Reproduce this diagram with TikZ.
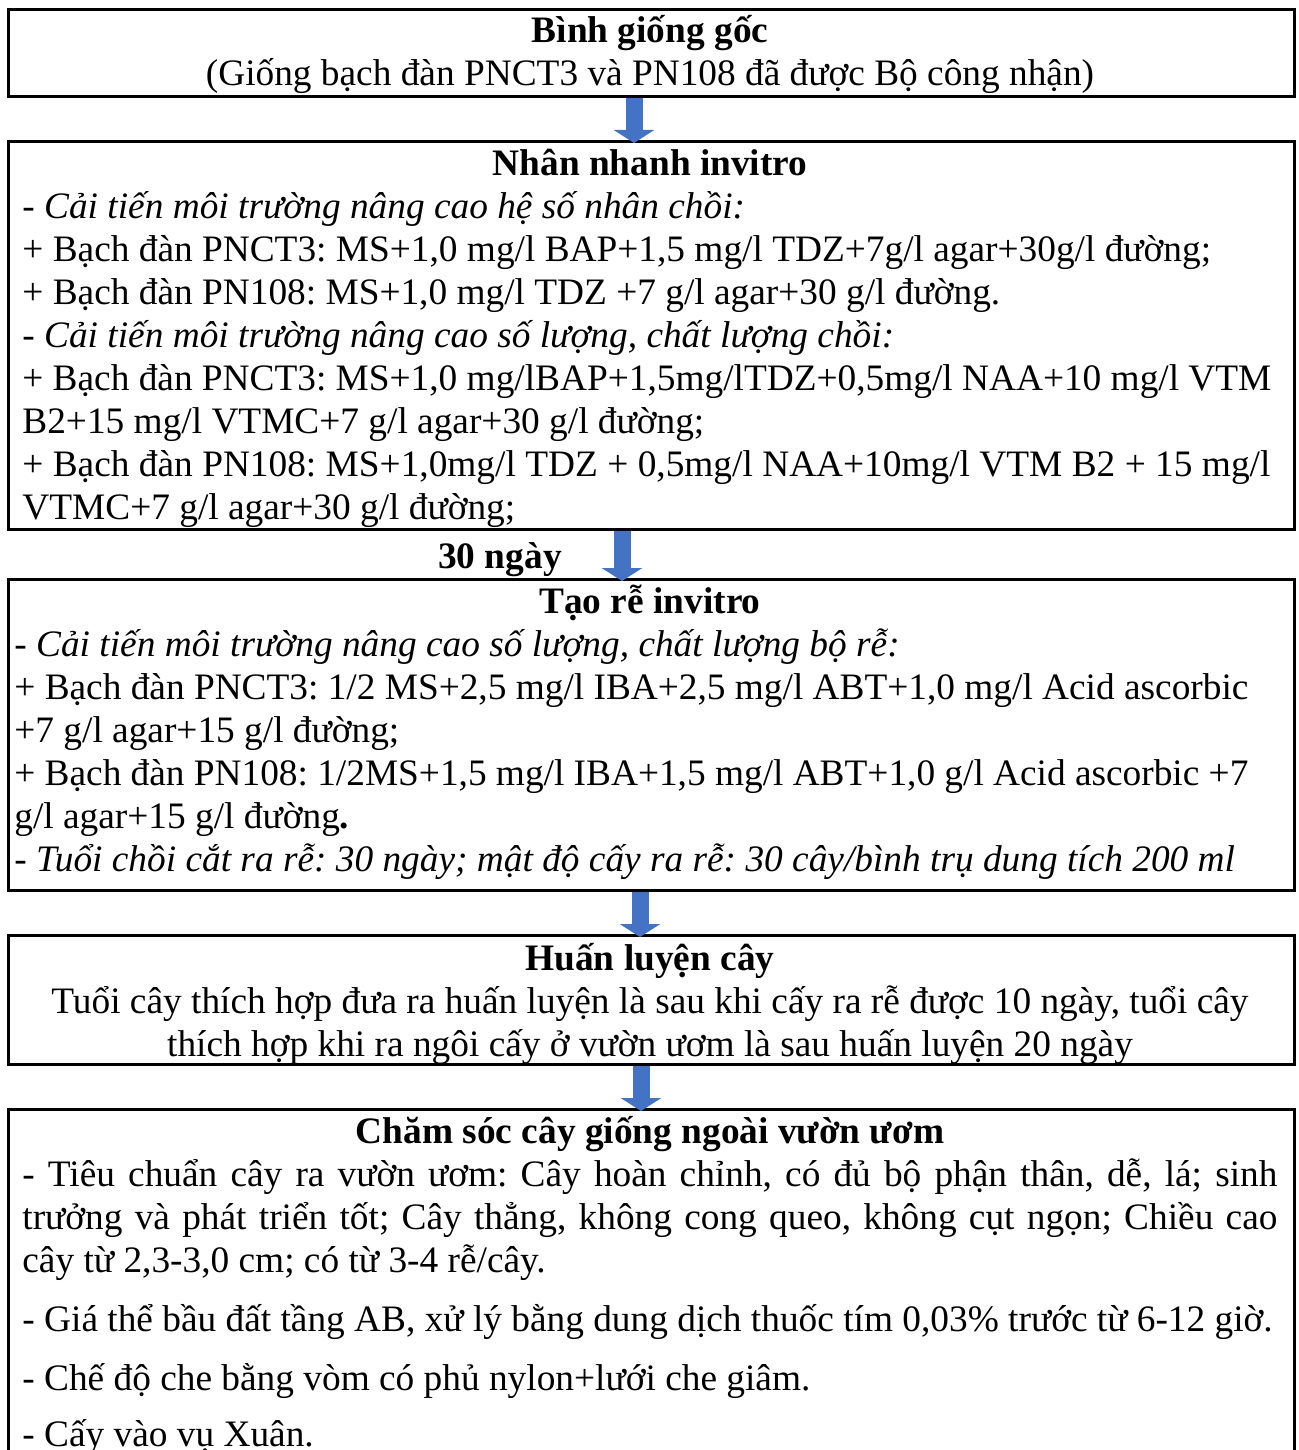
\documentclass[tikz,border=0pt]{standalone}
\usepackage{fontspec}
\setmainfont{Liberation Serif}
\frenchspacing
\usetikzlibrary{arrows.meta}
\definecolor{arrowblue}{RGB}{68,114,196}
\begin{document}
\begin{tikzpicture}[x=0.5pt,y=-0.5pt,
  box/.style={draw, line width=1.3pt, inner sep=0pt, anchor=north west, minimum width=643pt},
  txt/.style={inner sep=0pt, anchor=base west, font=\fontsize{18.67pt}{21.5pt}\selectfont},
  itl/.style={inner sep=0pt, anchor=base west, font=\fontsize{18.67pt}{21.5pt}\selectfont\itshape},
  ctr/.style={inner sep=0pt, anchor=base, font=\fontsize{18.67pt}{21.5pt}\selectfont},
  ttl/.style={inner sep=0pt, anchor=base, font=\fontsize{18.67pt}{21.5pt}\selectfont\bfseries},
  arr/.style={arrowblue, line width=8.5pt, shorten >=-1.5pt, -{Triangle[width=20pt,length=6.5pt]}}]
\useasboundingbox (0,0) rectangle (1298,1450);
\clip (0,0) rectangle (1298,1450);

% boxes
\node[box, minimum height=43.5pt] (b1) at (7,8) {};
\node[box, minimum height=194pt] (b2) at (7,140) {};
\node[box, minimum height=155.5pt] (b3) at (7,578) {};
\node[box, minimum height=64.5pt] (b4) at (7,934) {};
\node[box, minimum height=190pt] (b5) at (7,1108) {};

% box 1
\node[ttl] (t1) at (650,43) {Bình giống gốc};
\node[ctr] (l11) at (650,86) {(Giống bạch đàn PNCT3 và PN108 đã được Bộ công nhận)};

% box 2
\node[ttl] (t2) at (650,175) {Nhân nhanh invitro};
\node[itl] (l21) at (22,218) {- Cải tiến môi trường nâng cao hệ số nhân chồi:};
\node[txt] (l22) at (22,261) {+ Bạch đàn PNCT3: MS+1,0 mg/l BAP+1,5 mg/l TDZ+7g/l agar+30g/l đường;};
\node[txt] (l23) at (22,304) {+ Bạch đàn PN108: MS+1,0 mg/l TDZ +7 g/l agar+30 g/l đường.};
\node[itl] (l24) at (22,347) {- Cải tiến môi trường nâng cao số lượng, chất lượng chồi:};
\node[txt] (l25) at (22,390) {\makebox[624.5pt][s]{+ Bạch đàn PNCT3: MS+1,0 mg/lBAP+1,5mg/lTDZ+0,5mg/l NAA+10 mg/l VTM}};
\node[txt] (l26) at (22,433) {B2+15 mg/l VTMC+7 g/l agar+30 g/l đường;};
\node[txt] (l27) at (22,476) {\makebox[624pt][s]{+ Bạch đàn PN108: MS+1,0mg/l TDZ + 0,5mg/l NAA+10mg/l VTM B2 + 15 mg/l}};
\node[txt] (l28) at (22,519) {VTMC+7 g/l agar+30 g/l đường;};

\node[ttl] (d30) at (500,568) {30 ngày};

% box 3
\node[ttl] (t3) at (650,613) {Tạo rễ invitro};
\node[itl] (l31) at (14,656) {- Cải tiến môi trường nâng cao số lượng, chất lượng bộ rễ:};
\node[txt] (l32) at (14,699) {\makebox[617pt][s]{+ Bạch đàn PNCT3: 1/2 MS+2,5 mg/l IBA+2,5 mg/l ABT+1,0 mg/l Acid ascorbic}};
\node[txt] (l33) at (14,742) {+7 g/l agar+15 g/l đường;};
\node[txt] (l34) at (14,785) {\makebox[617pt][s]{+ Bạch đàn PN108: 1/2MS+1,5 mg/l IBA+1,5 mg/l ABT+1,0 g/l Acid ascorbic +7}};
\node[txt] (l35) at (14,828) {g/l agar+15 g/l đường\textbf{.}};
\node[itl] (l36) at (14,871) {- Tuổi chồi cắt ra rễ: 30 ngày; mật độ cấy ra rễ: 30 cây/bình trụ dung tích 200 ml};

% box 4
\node[ttl] (t4) at (650,970) {Huấn luyện cây};
\node[ctr] (l41) at (650,1013) {Tuổi cây thích hợp đưa ra huấn luyện là sau khi cấy ra rễ được 10 ngày, tuổi cây};
\node[ctr] (l42) at (650,1056) {thích hợp khi ra ngôi cấy ở vườn ươm là sau huấn luyện 20 ngày};

% box 5
\node[ttl] (t5) at (650,1143) {Chăm sóc cây giống ngoài vườn ươm};
\node[txt] (l51) at (22,1186) {\makebox[627.5pt][s]{- Tiêu chuẩn cây ra vườn ươm: Cây hoàn chỉnh, có đủ bộ phận thân, dễ, lá; sinh}};
\node[txt] (l52) at (22,1229) {\makebox[627.5pt][s]{trưởng và phát triển tốt; Cây thẳng, không cong queo, không cụt ngọn; Chiều cao}};
\node[txt] (l53) at (22,1272) {cây từ 2,3-3,0 cm; có từ 3-4 rễ/cây.};
\node[txt] (l54) at (22,1331) {- Giá thể bầu đất tầng AB, xử lý bằng dung dịch thuốc tím 0,03\% trước từ 6-12 giờ.};
\node[txt] (l55) at (22,1390) {- Chế độ che bằng vòm có phủ nylon+lưới che giâm.};
\node[txt] (l56) at (22,1446) {- Cấy vào vụ Xuân.};

% arrows
\coordinate (x1) at (634,0);
\coordinate (x2) at (622,0);
\coordinate (x3) at (640,0);
\coordinate (x4) at (641,0);
\draw[arr] (b1.south -| x1) -- (b2.north -| x1);
\draw[arr] (b2.south -| x2) -- (b3.north -| x2);
\draw[arr] (b3.south -| x3) -- (b4.north -| x3);
\draw[arr] (b4.south -| x4) -- (b5.north -| x4);
\end{tikzpicture}
\end{document}
